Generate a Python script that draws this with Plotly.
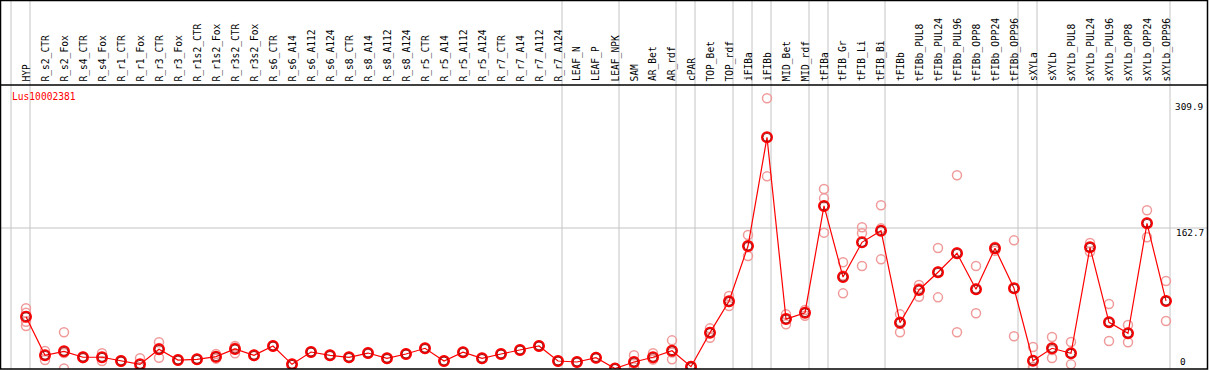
import plotly.graph_objects as go

W, H = 1209, 370

categories = [
    "HYP", "R_s2_CTR", "R_s2_Fox", "R_s4_CTR", "R_s4_Fox", "R_r1_CTR", "R_r1_Fox",
    "R_r3_CTR", "R_r3_Fox", "R_r1s2_CTR", "R_r1s2_Fox", "R_r3s2_CTR", "R_r3s2_Fox",
    "R_s6_CTR", "R_s6_A14", "R_s6_A112", "R_s6_A124", "R_s8_CTR", "R_s8_A14",
    "R_s8_A112", "R_s8_A124", "R_r5_CTR", "R_r5_A14", "R_r5_A112", "R_r5_A124",
    "R_r7_CTR", "R_r7_A14", "R_r7_A112", "R_r7_A124", "LEAF_N", "LEAF_P", "LEAF_NPK",
    "SAM", "AR_Bet", "AR_rdf", "cPAR", "TOP_Bet", "TOP_rdf", "iFIBa", "iFIBb",
    "MID_Bet", "MID_rdf", "tFIBa", "tFIB_Gr", "tFIB_Li", "tFIB_Bi", "tFIBb",
    "tFIBb_PUL8", "tFIBb_PUL24", "tFIBb_PUL96", "tFIBb_OPP8", "tFIBb_OPP24",
    "tFIBb_OPP96", "sXYLa", "sXYLb", "sXYLb_PUL8", "sXYLb_PUL24", "sXYLb_PUL96",
    "sXYLb_OPP8", "sXYLb_OPP24", "sXYLb_OPP96",
]

means = [
    60.0, 15.3, 19.9, 13.0, 13.0, 8.7, 4.8, 22.2, 9.8, 10.6, 13.7, 22.6, 15.3,
    26.0, 4.8, 19.1, 15.3, 13.0, 17.9, 11.8, 16.8, 23.4, 8.7, 18.8, 11.8,
    16.8, 21.4, 26.1, 8.7, 7.5, 12.5, 0.0, 7.5, 13.0, 20.6, 2.1, 41.5, 77.8,
    141.8, 267.7, 57.2, 64.6, 188.2, 105.9, 146.1, 159.6, 53.0, 90.9, 111.4,
    133.4, 91.7, 139.2, 92.9, 9.0, 23.4, 17.6, 140.3, 53.5, 40.8, 168.1, 78.2,
]

replicates = [
    [69.7, 64.5, 54.2, 49.2], [20.3, 15.8, 9.8], [41.9, 18.0, 0.0], [14.0, 13.0, 12.0],
    [17.6, 12.8, 8.7], [9.5, 8.7, 7.9], [11.8, 1.5, 1.1], [30.3, 23.8, 12.5],
    [10.5, 9.8, 9.1], [11.2, 10.6, 10.0], [16.8, 12.9, 11.4], [26.0, 24.2, 17.6],
    [16.0, 15.3, 14.6], [26.5, 26.0, 25.5], [5.4, 4.8, 4.2], [19.8, 19.1, 18.4],
    [16.0, 15.3, 14.6], [13.7, 13.0, 12.3], [18.6, 17.9, 17.2], [12.5, 11.8, 11.1],
    [17.5, 16.8, 16.1], [24.1, 23.4, 22.7], [9.4, 8.7, 8.0], [19.5, 18.8, 18.1],
    [12.5, 11.8, 11.1], [17.5, 16.8, 16.1], [22.1, 21.4, 20.7], [26.8, 26.1, 25.4],
    [9.4, 8.7, 8.0], [8.2, 7.5, 6.8], [13.2, 12.5, 11.8], [0.7, 0.0, 0.0],
    [15.3, 5.8, 1.4], [17.6, 11.0, 10.4], [32.6, 18.6, 10.6], [3.0, 2.1, 1.2],
    [46.5, 42.3, 35.7], [84.0, 77.0, 72.4], [154.6, 140.5, 130.3], [312.9, 222.5],
    [62.7, 57.7, 51.2], [67.7, 65.0, 61.1], [207.9, 197.0, 157.3], [123.0, 107.7, 87.0],
    [163.5, 156.6, 118.7], [189.0, 162.3, 126.4], [62.7, 54.4, 41.9], [96.7, 93.0, 83.1],
    [139.5, 112.3, 82.4], [223.7, 134.6, 41.9], [118.7, 92.5, 63.9], [141.0, 140.2, 136.4],
    [148.4, 93.0, 37.3], [24.9, 2.1, 0.0], [36.5, 21.5, 12.2], [30.7, 17.3, 4.8],
    [145.3, 140.4, 135.2], [74.7, 54.0, 31.8], [50.4, 41.7, 30.3], [183.2, 169.2, 151.9],
    [101.3, 78.3, 55.0],
]

# last category index of each group (separators drawn after these)
group_ends = [-1, 0, 28, 31, 34, 35, 37, 38, 39, 41, 42, 45, 52, 53, 60]

y_ticks = [0, 162.7, 309.9]
y_tick_labels = ["0", "162.7", "309.9"]
gene_label = "Lus10002381"

FONT = "DejaVu Sans Mono"
RED = "#ff0000"
PINK = "#f09a9a"
GRID = "#c4c4c4"

# pixel geometry
PLOT_L, PLOT_R, PLOT_T, PLOT_B = 1, 1207, 85, 369
X0, DX = 26, 19
Y_RANGE = [(368.5 - 369) / 0.8636, (368.5 - 85) / 0.8636]


def px(x):
    return x / W


def py(y):
    return 1 - y / H


rep_x, rep_y = [], []
for c, reps in zip(categories, replicates):
    for v in reps:
        rep_x.append(c)
        rep_y.append(v)

fig = go.Figure()
fig.add_trace(go.Scatter(
    x=rep_x, y=rep_y, mode="markers",
    marker=dict(symbol="circle-open", size=9, color=PINK, line=dict(width=1.5)),
    hoverinfo="skip", showlegend=False,
))
fig.add_trace(go.Scatter(
    x=categories, y=means, mode="lines+markers",
    line=dict(color=RED, width=1.2),
    marker=dict(symbol="circle-open", size=10, color=RED, line=dict(width=2)),
    showlegend=False,
))
fig.add_trace(go.Scatter(
    x=categories, y=means, mode="markers",
    marker=dict(symbol="circle-open", size=8, color="#900000", line=dict(width=0.8)),
    showlegend=False, hoverinfo="skip",
))

shapes = []
for e in group_ends:
    shapes.append(dict(type="line", xref="x", yref="paper", x0=e + 4 / DX, x1=e + 4 / DX,
                       y0=py(PLOT_B), y1=py(0), line=dict(color=GRID, width=1), layer="below"))
shapes.append(dict(type="line", xref="paper", yref="y", x0=px(PLOT_L), x1=px(PLOT_R),
                   y0=y_ticks[1], y1=y_ticks[1], line=dict(color=GRID, width=1), layer="below"))
# frame
shapes.append(dict(type="rect", xref="paper", yref="paper", x0=px(0.5), x1=px(1207.5),
                   y0=py(369), y1=py(0.5), line=dict(color="black", width=1.5)))
shapes.append(dict(type="line", xref="paper", yref="paper", x0=px(0.5), x1=px(1207.5),
                   y0=py(85), y1=py(85), line=dict(color="black", width=1.5)))

annotations = []
for c in categories:
    annotations.append(dict(x=c, y=py(83.5), xref="x", yref="paper", text=c, textangle=-90,
                            showarrow=False, xanchor="center", yanchor="bottom",
                            font=dict(family=FONT, size=9.6, color="black")))
shifts = [6.8, -4.5, -5.8]
for v, t, s in zip(y_ticks, y_tick_labels, shifts):
    annotations.append(dict(x=px(1206), y=v, xref="paper", yref="y", text=t, showarrow=False,
                            xanchor="right", yanchor="middle", yshift=s,
                            font=dict(family=FONT, size=9.4, color="black"))
                       if t != "0" else
                       dict(x=px(1178), y=v, xref="paper", yref="y", text=t, showarrow=False,
                            xanchor="left", yanchor="middle", yshift=s,
                            font=dict(family=FONT, size=9.4, color="black")))
annotations.append(dict(x=px(9.5), y=py(96.7), xref="paper", yref="paper", text=gene_label,
                        showarrow=False, xanchor="left", yanchor="middle",
                        font=dict(family=FONT, size=9.6, color=RED)))

fig.update_layout(
    width=W, height=H, margin=dict(l=0, r=0, t=0, b=0),
    paper_bgcolor="white", plot_bgcolor="white",
    xaxis=dict(domain=[px(PLOT_L), px(PLOT_R)], type="category",
               range=[(PLOT_L - X0) / DX, (PLOT_R - X0) / DX],
               showgrid=False, zeroline=False, showticklabels=False, ticks=""),
    yaxis=dict(domain=[py(PLOT_B), py(PLOT_T)], range=Y_RANGE,
               showgrid=False, zeroline=False, showticklabels=False, ticks=""),
    shapes=shapes, annotations=annotations,
)

fig.write_html("out.html", config={"displayModeBar": False},
               post_script="document.body.style.margin='0';document.body.style.overflow='hidden';")
